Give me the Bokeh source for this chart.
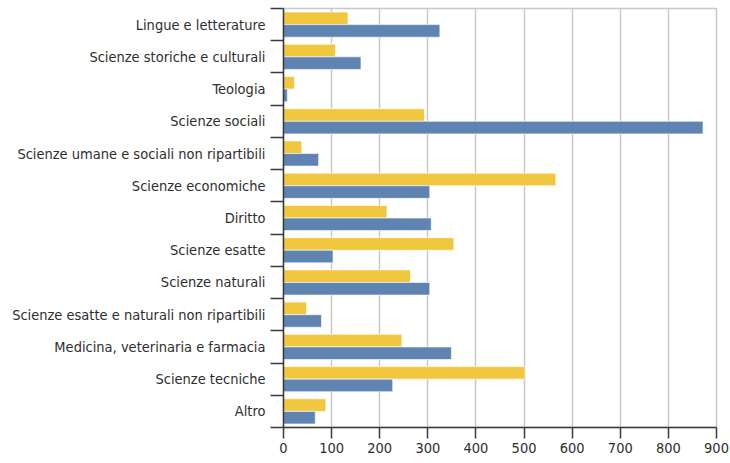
from bokeh.plotting import figure
from bokeh.models import Range1d, FixedTicker, ColumnDataSource
from bokeh.transform import dodge
from bokeh.embed import file_html
from bokeh.resources import INLINE

categories = [
    "Lingue e letterature",
    "Scienze storiche e culturali",
    "Teologia",
    "Scienze sociali",
    "Scienze umane e sociali non ripartibili",
    "Scienze economiche",
    "Diritto",
    "Scienze esatte",
    "Scienze naturali",
    "Scienze esatte e naturali non ripartibili",
    "Medicina, veterinaria e farmacia",
    "Scienze tecniche",
    "Altro",
]
yellow_values = [134, 108, 23, 293, 38, 566, 215, 354, 264, 48, 246, 502, 88]
blue_values = [325, 161, 8, 872, 73, 304, 307, 103, 304, 79, 349, 227, 66]
x_ticks = [0, 100, 200, 300, 400, 500, 600, 700, 800, 900]

centers = [i + 0.5 for i in range(len(categories))]
bounds = [i for i in range(len(categories) + 1)]

src = ColumnDataSource(dict(y=centers, yel=yellow_values, blu=blue_values))

FONT = "'DejaVu Sans Condensed', 'Liberation Sans Narrow', sans-serif"
TXT = "#2e2e2e"
AX = "#3a3a3a"

p = figure(
    frame_width=433, frame_height=419,
    min_border_left=283, min_border_right=13, min_border_top=8, min_border_bottom=30,
    x_range=Range1d(0, 900), y_range=Range1d(len(categories), 0),
    output_backend="svg", toolbar_location=None,
)

p.hbar(y=dodge("y", -0.195, range=p.y_range), right="yel", left=0, height=0.39,
       source=src, fill_color="#f2c740", line_color="white", line_alpha=0.6, line_width=1)
p.hbar(y=dodge("y", 0.195, range=p.y_range), right="blu", left=0, height=0.39,
       source=src, fill_color="#5f84b1", line_color="white", line_alpha=0.6, line_width=1)

p.outline_line_color = "#c8c8c8"
p.outline_line_width = 1.5

p.xgrid.grid_line_color = "#c8c8c8"
p.xgrid.grid_line_width = 1.5
p.xgrid.ticker = FixedTicker(ticks=x_ticks)
p.ygrid.grid_line_color = None

xa = p.xaxis[0]
xa.ticker = FixedTicker(ticks=x_ticks)
xa.axis_line_color = AX
xa.axis_line_width = 1.5
xa.major_tick_line_color = AX
xa.major_tick_line_width = 1.5
xa.major_tick_out = 11
xa.major_tick_in = 0
xa.minor_tick_line_color = None
xa.major_label_text_font = FONT
xa.major_label_text_font_size = "14.5px"
xa.major_label_text_color = TXT
xa.major_label_standoff = 4

ya = p.yaxis[0]
ya.ticker = FixedTicker(ticks=centers, minor_ticks=bounds)
ya.major_label_overrides = {c: name for c, name in zip(centers, categories)}
ya.axis_line_color = AX
ya.axis_line_width = 1.5
ya.major_tick_line_color = None
ya.major_tick_out = 0
ya.major_tick_in = 0
ya.minor_tick_line_color = AX
ya.minor_tick_line_width = 1.5
ya.minor_tick_out = 13
ya.minor_tick_in = 0
ya.major_label_text_font = FONT
ya.major_label_text_font_size = "14.5px"
ya.major_label_text_color = TXT
ya.major_label_standoff = 5

open("out.html", "w").write(file_html(p, INLINE))
